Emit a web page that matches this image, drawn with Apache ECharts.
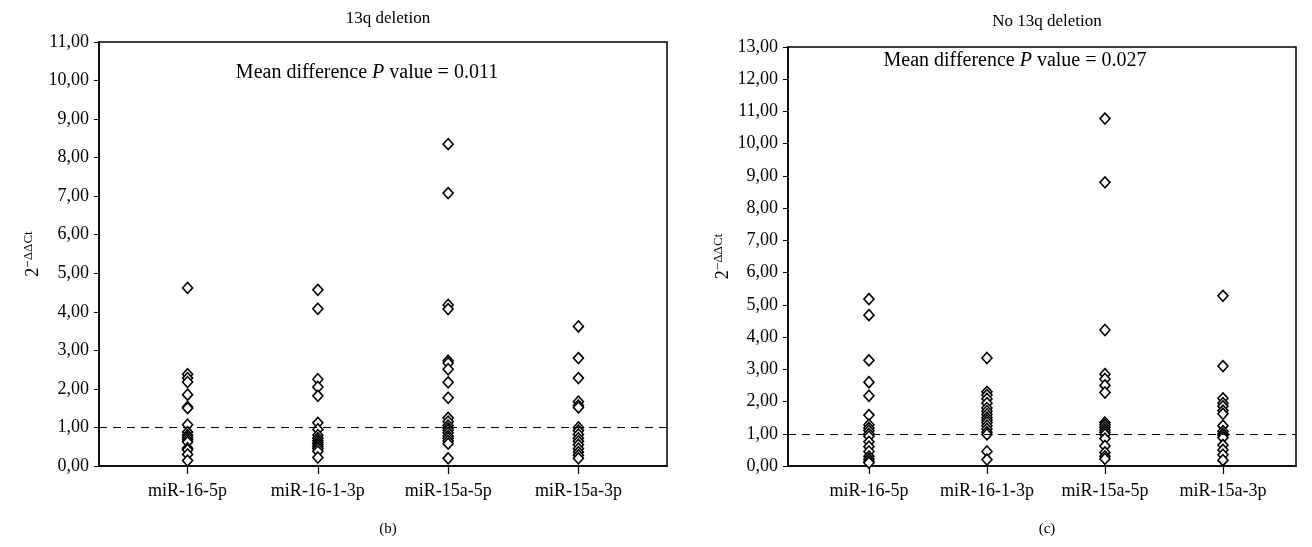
<!DOCTYPE html>
<html>
<head>
<meta charset="utf-8">
<script src="https://cdn.jsdelivr.net/npm/echarts@6/dist/echarts.min.js"></script>
<style>
html,body{margin:0;padding:0;background:#fff;}
#c{width:1312px;height:547px;}
</style>
</head>
<body>
<div id="c"></div>
<script>
const categories = ['miR-16-5p', 'miR-16-1-3p', 'miR-15a-5p', 'miR-15a-3p'];

// Panel (b): 13q deletion
const del_16_5p   = [4.62, 2.38, 2.28, 2.18, 1.85, 1.53, 1.50, 1.07, 0.88, 0.80, 0.74, 0.68, 0.62, 0.46, 0.42, 0.30, 0.14];
const del_16_1_3p = [4.57, 4.08, 2.25, 2.05, 1.82, 1.12, 0.95, 0.80, 0.72, 0.66, 0.60, 0.55, 0.50, 0.45, 0.38, 0.22];
const del_15a_5p  = [8.35, 7.08, 4.18, 4.07, 2.73, 2.67, 2.51, 2.17, 1.77, 1.25, 1.15, 1.05, 0.98, 0.93, 0.86, 0.78, 0.72, 0.65, 0.58, 0.20];
const del_15a_3p  = [3.62, 2.80, 2.28, 1.67, 1.57, 1.52, 1.00, 0.92, 0.82, 0.72, 0.64, 0.55, 0.45, 0.36, 0.28, 0.20];

// Panel (c): No 13q deletion
const nodel_16_5p   = [5.18, 4.68, 3.28, 2.60, 2.18, 1.58, 1.28, 1.18, 1.10, 1.00, 0.92, 0.75, 0.60, 0.45, 0.30, 0.22, 0.15, 0.10];
const nodel_16_1_3p = [3.35, 2.30, 2.20, 2.08, 1.95, 1.80, 1.70, 1.60, 1.50, 1.42, 1.35, 1.25, 1.15, 1.05, 0.98, 0.45, 0.20];
const nodel_15a_5p  = [10.78, 8.80, 4.22, 2.85, 2.70, 2.50, 2.28, 1.35, 1.28, 1.20, 1.12, 1.05, 0.98, 0.85, 0.62, 0.42, 0.30, 0.22];
const nodel_15a_3p  = [5.28, 3.10, 2.10, 1.95, 1.85, 1.72, 1.62, 1.25, 1.08, 1.00, 0.95, 0.88, 0.65, 0.50, 0.35, 0.18];

const refLine = 1.0;
const leftMax = 11, rightMax = 13;
const titleB = '13q deletion', titleC = 'No 13q deletion';
const pB = '0.011', pC = '0.027';

const FONT = '"Liberation Serif", "DejaVu Serif", serif';

const delSets = [del_16_5p, del_16_1_3p, del_15a_5p, del_15a_3p];
const nodelSets = [nodel_16_5p, nodel_16_1_3p, nodel_15a_5p, nodel_15a_3p];

function pts(sets) {
  const out = [];
  sets.forEach((arr, i) => arr.forEach(v => out.push([i + 1, v])));
  return out;
}

const fmtY = v => v.toFixed(2).replace('.', ',');

function xAxis(gi, min, max) {
  return {
    type: 'value', gridIndex: gi, min: min, max: max,
    splitLine: {show: false},
    axisLine: {show: true, onZero: false, lineStyle: {color: '#000', width: 1.5}},
    axisTick: {show: true, customValues: [1, 2, 3, 4], length: 8, lineStyle: {color: '#000', width: 1.2}},
    axisLabel: {show: true, customValues: [1, 2, 3, 4], formatter: v => categories[Math.round(v) - 1],
      color: '#000', fontFamily: FONT, fontSize: 18, margin: 16}
  };
}

function yAxis(gi, max, gap) {
  return {
    type: 'value', gridIndex: gi, min: 0, max: max, interval: 1,
    splitLine: {show: false},
    axisLine: {show: true, lineStyle: {color: '#000', width: 1.5}},
    axisTick: {show: true, length: 5, lineStyle: {color: '#000', width: 1}},
    axisLabel: {formatter: fmtY, color: '#000', fontFamily: FONT, fontSize: 18, margin: 10},
    name: '{b|2}{s|−ΔΔCt}',
    nameLocation: 'middle', nameRotate: 90, nameGap: gap,
    nameTextStyle: {rich: {
      b: {fontFamily: FONT, fontSize: 18, color: '#000'},
      s: {fontFamily: FONT, fontSize: 13, color: '#000', verticalAlign: 'bottom', padding: [0, 0, 9, 0]}
    }}
  };
}

function series(gi, sets) {
  return {
    type: 'scatter', xAxisIndex: gi, yAxisIndex: gi,
    data: pts(sets),
    symbol: 'diamond', symbolSize: [10, 11],
    itemStyle: {color: '#fff', borderColor: '#000', borderWidth: 1.6, opacity: 1},
    silent: true, animation: false,
    markLine: {
      silent: true, symbol: 'none', animation: false,
      label: {show: false},
      lineStyle: {color: '#000', type: [8, 6], width: 1.2},
      data: [{yAxis: refLine}]
    }
  };
}

const annRich = {
  n: {fontFamily: FONT, fontSize: 20, fontWeight: 'normal', color: '#000'},
  i: {fontFamily: FONT, fontSize: 20, fontWeight: 'normal', fontStyle: 'italic', color: '#000'}
};

const chart = echarts.init(document.getElementById('c'), null, {renderer: 'canvas'});
chart.setOption({
  backgroundColor: '#fff',
  animation: false,
  title: [
    {text: titleB, left: 383, top: 5, textAlign: 'center', textStyle: {fontFamily: FONT, fontSize: 17, fontWeight: 'normal', color: '#000'}},
    {text: titleC, left: 1042, top: 8, textAlign: 'center', textStyle: {fontFamily: FONT, fontSize: 17, fontWeight: 'normal', color: '#000'}},
    {text: '{n|Mean difference }{i|P}{n| value = ' + pB + '}', left: 362, top: 58, textAlign: 'center',
      textStyle: {fontWeight: 'normal', rich: annRich}},
    {text: '{n|Mean difference }{i|P}{n| value = ' + pC + '}', left: 1010, top: 46, textAlign: 'center',
      textStyle: {fontWeight: 'normal', rich: annRich}},
    {text: '(b)', left: 383, top: 517, textAlign: 'center', textStyle: {fontFamily: FONT, fontSize: 15, fontWeight: 'normal', color: '#000'}},
    {text: '(c)', left: 1042, top: 517, textAlign: 'center', textStyle: {fontFamily: FONT, fontSize: 15, fontWeight: 'normal', color: '#000'}}
  ],
  grid: [
    {left: 99, width: 568, top: 42, height: 424, show: true, borderColor: '#000', borderWidth: 1.5, backgroundColor: 'transparent'},
    {left: 788, width: 508, top: 47, height: 419, show: true, borderColor: '#000', borderWidth: 1.5, backgroundColor: 'transparent'}
  ],
  xAxis: [xAxis(0, 0.32, 4.68), xAxis(1, 0.314, 4.619)],
  yAxis: [yAxis(0, leftMax, 55), yAxis(1, rightMax, 54)],
  series: [series(0, delSets), series(1, nodelSets)]
});
</script>
</body>
</html>
